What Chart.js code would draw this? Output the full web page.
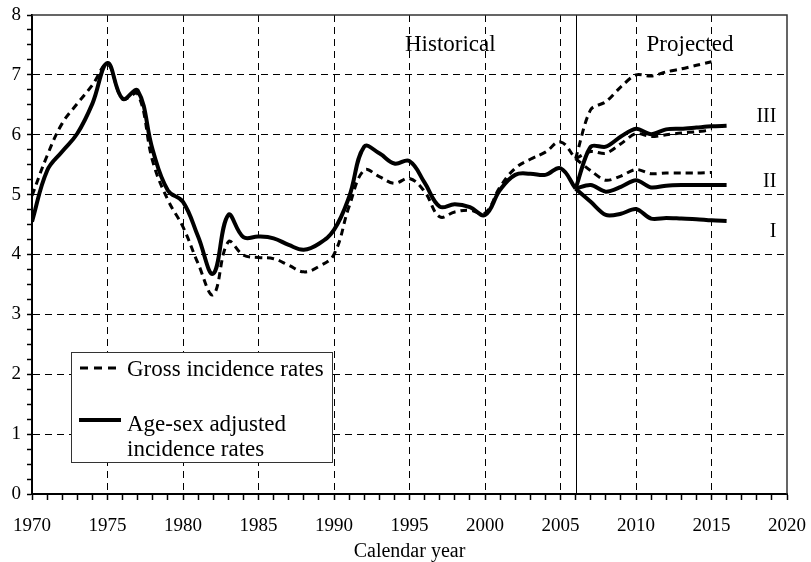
<!DOCTYPE html>
<html>
<head>
<meta charset="utf-8">
<script src="https://cdn.jsdelivr.net/npm/chart.js@4/dist/chart.umd.min.js"></script>
<style>
  html, body { margin: 0; padding: 0; background: #fff; }
  #incidence { display: block; }
</style>
</head>
<body>
<canvas id="incidence" width="811" height="562"></canvas>
<script>
// values
const histYears = [1970, 1971, 1972, 1973, 1974, 1975, 1976, 1977, 1978, 1979,
  1980, 1981, 1982, 1983, 1984, 1985, 1986, 1987, 1988, 1989,
  1990, 1991, 1992, 1993, 1994, 1995, 1996, 1997, 1998, 1999,
  2000, 2001, 2002, 2003, 2004, 2005, 2006];
const grossHist = [4.98, 5.65, 6.19, 6.52, 6.83, 7.18, 6.6, 6.68, 5.55, 4.91,
  4.46, 3.85, 3.33, 4.21, 3.99, 3.95, 3.93, 3.82, 3.71, 3.8,
  4.0, 4.8, 5.41, 5.3, 5.19, 5.27, 5.05, 4.63, 4.71, 4.74,
  4.69, 5.13, 5.44, 5.59, 5.71, 5.88, 5.6];
const adjHist = [4.55, 5.4, 5.72, 6.02, 6.52, 7.2, 6.6, 6.74, 5.74, 5.07,
  4.88, 4.3, 3.68, 4.66, 4.29, 4.3, 4.27, 4.16, 4.08, 4.18,
  4.41, 4.96, 5.8, 5.69, 5.52, 5.56, 5.2, 4.8, 4.84, 4.79,
  4.66, 5.08, 5.33, 5.35, 5.33, 5.44, 5.1];

const projYears = [2006, 2007, 2008, 2009, 2010, 2011, 2012, 2013, 2014, 2015, 2016];
const adjI = [5.1, 4.88, 4.66, 4.68, 4.76, 4.6, 4.61, 4.6, 4.59, 4.57, 4.56];
const adjII = [5.1, 5.16, 5.05, 5.13, 5.24, 5.12, 5.15, 5.16, 5.16, 5.16, 5.16];
const adjIII = [5.1, 5.8, 5.8, 5.97, 6.1, 6.01, 6.09, 6.1, 6.12, 6.14, 6.15];
const grossI = [5.6, 5.4, 5.24, 5.31, 5.42, 5.35, 5.36, 5.36, 5.36, 5.37];
const grossII = [5.6, 5.72, 5.69, 5.85, 6.02, 5.97, 6.0, 6.03, 6.05, 6.08];
const grossIII = [5.6, 6.42, 6.55, 6.8, 7.0, 6.98, 7.05, 7.1, 7.16, 7.22];

const scenarioLabels = ["III", "II", "I"];
const scenarioAt = [6.22, 5.13, 4.3];

const serif = "'Liberation Serif', 'Times New Roman', serif";

const pts = (xs, ys) => ys.map((y, i) => ({ x: xs[i], y: y }));

const solid = (data, tension) => ({
  data: data,
  borderColor: "#000",
  borderWidth: 4,
  pointRadius: 0,
  tension: tension,
  fill: false
});
const dashed = (data, tension) => ({
  data: data,
  borderColor: "#000",
  borderWidth: 3,
  borderDash: [7, 5],
  pointRadius: 0,
  tension: tension,
  fill: false
});

const extras = {
  id: "extras",
  beforeDatasetsDraw(chart) {
    const { ctx, chartArea } = chart;
    const x = chart.scales.x;
    // boundary between historical and projected
    const px = Math.round(x.getPixelForValue(2006)) + 0.5;
    ctx.save();
    ctx.strokeStyle = "#000";
    ctx.lineWidth = 1;
    ctx.beginPath();
    ctx.moveTo(px, chartArea.top);
    ctx.lineTo(px, chartArea.bottom);
    ctx.stroke();
    ctx.restore();
  },
  afterDraw(chart) {
    const { ctx, chartArea } = chart;
    const x = chart.scales.x;
    const y = chart.scales.y;
    ctx.save();
    // top and right frame
    ctx.strokeStyle = "#333";
    ctx.lineWidth = 1.5;
    ctx.beginPath();
    ctx.moveTo(chartArea.left, chartArea.top);
    ctx.lineTo(chartArea.right, chartArea.top);
    ctx.lineTo(chartArea.right, chartArea.bottom);
    ctx.stroke();

    ctx.fillStyle = "#000";
    ctx.textBaseline = "alphabetic";
    ctx.textAlign = "left";
    ctx.font = "23px " + serif;
    ctx.fillText("Historical", x.getPixelForValue(1994.7), y.getPixelForValue(7.4));
    ctx.fillText("Projected", x.getPixelForValue(2010.7), y.getPixelForValue(7.4));

    ctx.font = "20px " + serif;
    ctx.textAlign = "right";
    scenarioLabels.forEach((lab, i) => {
      ctx.fillText(lab, x.getPixelForValue(2019.3), y.getPixelForValue(scenarioAt[i]));
    });

    // legend box
    ctx.fillStyle = "#fff";
    ctx.fillRect(71, 352, 261, 110);
    ctx.strokeStyle = "#333";
    ctx.lineWidth = 1;
    ctx.strokeRect(71.5, 352.5, 261, 110);
    ctx.strokeStyle = "#000";
    ctx.lineWidth = 3;
    ctx.setLineDash([8, 6]);
    ctx.beginPath();
    ctx.moveTo(80, 368);
    ctx.lineTo(121, 368);
    ctx.stroke();
    ctx.setLineDash([]);
    ctx.lineWidth = 4;
    ctx.beginPath();
    ctx.moveTo(79, 420);
    ctx.lineTo(121, 420);
    ctx.stroke();
    ctx.fillStyle = "#000";
    ctx.textAlign = "left";
    ctx.font = "23px " + serif;
    ctx.fillText("Gross incidence rates", 127, 376);
    ctx.fillText("Age-sex adjusted", 127, 431);
    ctx.fillText("incidence rates", 127, 456);
    ctx.restore();
  }
};

new Chart(document.getElementById("incidence"), {
  type: "line",
  data: {
    datasets: [
      dashed(pts(histYears, grossHist), 0.4),
      solid(pts(histYears, adjHist), 0.4),
      dashed(pts(projYears, grossI), 0.3),
      dashed(pts(projYears, grossII), 0.3),
      dashed(pts(projYears, grossIII), 0.3),
      solid(pts(projYears, adjI), 0.3),
      solid(pts(projYears, adjII), 0.3),
      solid(pts(projYears, adjIII), 0.3)
    ]
  },
  options: {
    responsive: false,
    animation: false,
    devicePixelRatio: 1,
    layout: { padding: { top: 15, right: 24, left: 0, bottom: 0 } },
    plugins: {
      legend: { display: false },
      tooltip: { enabled: false },
      title: { display: false }
    },
    scales: {
      x: {
        type: "linear",
        min: 1970,
        max: 2020,
        afterFit: scale => {
          scale.height = 68;
          scale.paddingLeft = 0;
          scale.paddingRight = 0;
        },
        ticks: {
          stepSize: 1,
          autoSkip: false,
          maxRotation: 0,
          padding: 15,
          color: "#000",
          font: { family: serif, size: 19 },
          callback: v => (v % 5 === 0 ? String(v) : "")
        },
        grid: {
          color: c => (c.tick && c.tick.value % 5 === 0 && c.tick.value > 1970 && c.tick.value < 2020 ? "#000" : "rgba(0,0,0,0)"),
          lineWidth: 1,
          tickLength: 6,
          tickColor: "#000",
          tickWidth: 1.5
        },
        border: { display: true, color: "#000", width: 2, dash: [7, 5] },
        title: {
          display: true,
          text: "Calendar year",
          color: "#000",
          font: { family: serif, size: 20, lineHeight: 1 },
          padding: { top: 0, bottom: 0 }
        }
      },
      y: {
        min: 0,
        max: 8,
        afterFit: scale => {
          scale.width = 32;
          scale.paddingTop = 0;
          scale.paddingBottom = 0;
        },
        ticks: {
          stepSize: 0.25,
          autoSkip: false,
          padding: 6,
          color: "#000",
          font: { family: serif, size: 19 },
          callback: v => (Number.isInteger(v) ? String(v) : "")
        },
        grid: {
          color: c => (c.tick && Number.isInteger(c.tick.value) && c.tick.value > 0 && c.tick.value < 8 ? "#000" : "rgba(0,0,0,0)"),
          lineWidth: 1,
          tickLength: 5,
          tickColor: "#000",
          tickWidth: 1.5
        },
        border: { display: true, color: "#000", width: 2, dash: [7, 5] }
      }
    }
  },
  plugins: [extras]
});
</script>
</body>
</html>
